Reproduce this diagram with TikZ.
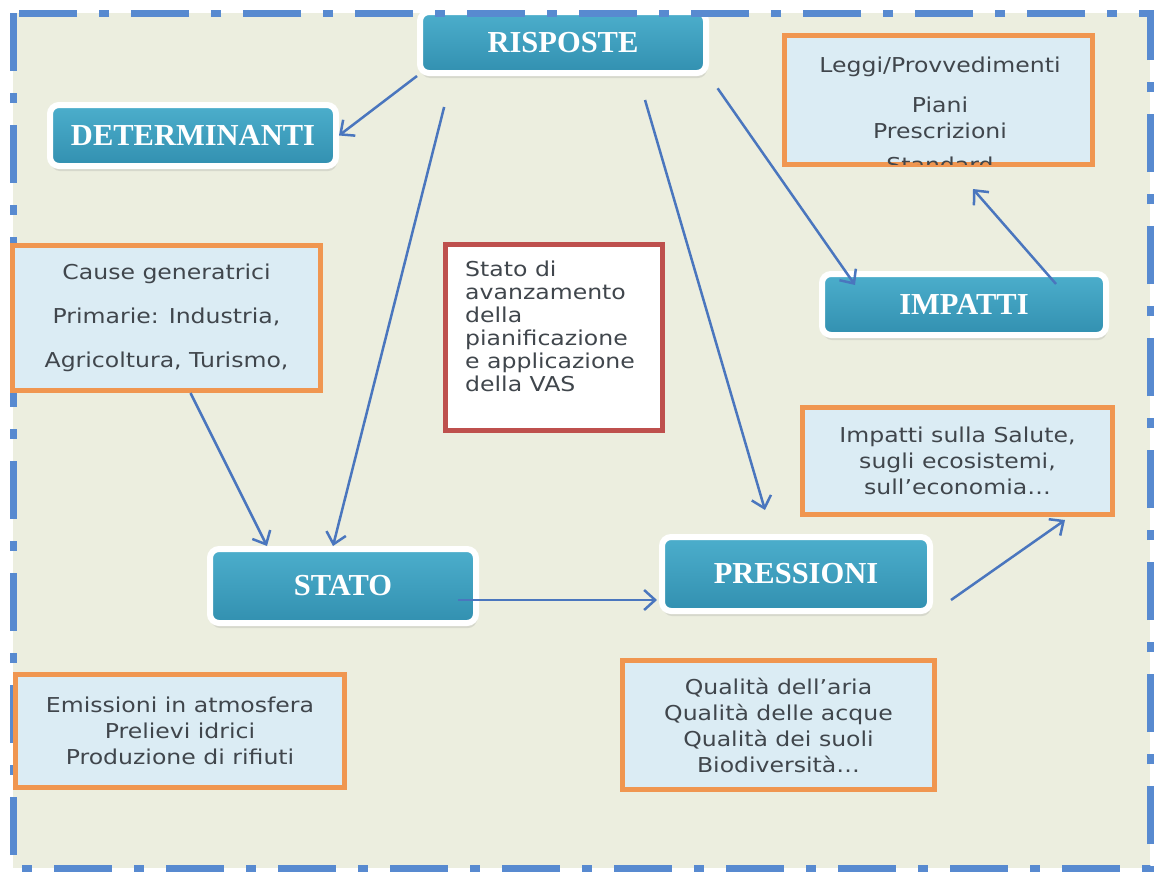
\documentclass[tikz,border=0pt]{standalone}
\usepackage{fontspec}
\usetikzlibrary{arrows.meta,calc,shadows}
\newfontfamily\boxfont[FakeStretch=1.15]{DejaVu Sans}
\newfontfamily\headfont{Liberation Serif}
\definecolor{pagebg}{RGB}{236,238,223}
\definecolor{framebl}{RGB}{88,138,208}
\definecolor{btntop}{RGB}{76,174,204}
\definecolor{btnbot}{RGB}{50,144,176}
\definecolor{boxorange}{RGB}{240,150,80}
\definecolor{boxblue}{RGB}{219,236,244}
\definecolor{boxred}{RGB}{190,80,77}
\definecolor{textgray}{RGB}{64,70,76}
\definecolor{arrowblue}{RGB}{74,118,190}

\tikzset{
  button/.style={rectangle, rounded corners=9pt, draw=white, line width=6pt,
    top color=btntop, bottom color=btnbot, text=white, inner sep=0pt,
    font=\headfont\bfseries\fontsize{30.5}{34}\selectfont,
    drop shadow={shadow xshift=1pt, shadow yshift=-5pt, opacity=0.2}},
  infobox/.style={rectangle, draw=boxorange, line width=5pt, fill=boxblue,
    text=textgray, inner sep=0pt, align=center,
    font=\boxfont\fontsize{20.5}{26}\selectfont},
  arr/.style={draw=arrowblue, line width=2.5pt,
    -{Straight Barb[length=11pt, width=20pt]}},
}

\begin{document}
\begin{tikzpicture}[x=1pt, y=-1pt]
  \useasboundingbox (0,0) rectangle (1154,873);
  \fill[pagebg] (13,13) rectangle (1150,868);

  % top button sits under the frame
  \node[button, minimum width=286pt, minimum height=61pt] (risp) at (563,42.5) {RISPOSTE};

  % dash-dot frame
  \draw[framebl, line width=7pt, dash pattern=on 58pt off 22pt on 10pt off 22pt]
    (13,13) rectangle (1150,868);

  % the other buttons
  \node[button, minimum width=286pt, minimum height=61pt] (det) at (193,135.5) {DETERMINANTI};
  \node[button, minimum width=284pt, minimum height=61pt] (imp) at (964,304.5) {IMPATTI};
  \node[button, minimum width=266pt, minimum height=74pt] (stato) at (343,586) {STATO};
  \node[button, minimum width=268pt, minimum height=74pt] (press) at (796,574) {PRESSIONI};

  % orange boxes
  \node[infobox, minimum width=308pt, minimum height=129pt] (leggi) at (938.5,100) {};
  \begin{scope}
    \clip ($(leggi.north west)+(2.5,2.5)$) rectangle ($(leggi.south east)+(-2.5,-2.5)$);
    \node[text=textgray, align=center, inner sep=0pt, anchor=north,
      font=\boxfont\fontsize{20.5}{26}\selectfont] (leggitxt) at (940,57)
      {Leggi/Provvedimenti\\[14pt]Piani\\Prescrizioni\\[8pt]Standard};
  \end{scope}

  \node[infobox, minimum width=308pt, minimum height=145pt,
    font=\boxfont\fontsize{20.5}{44}\selectfont] (cause) at (166.5,318)
    {Cause generatrici\\Primarie: Industria,\\Agricoltura, Turismo,};

  \node[infobox, minimum width=310pt, minimum height=107pt] (salute) at (957.5,461)
    {Impatti sulla Salute,\\sugli ecosistemi,\\sull’economia…};

  \node[infobox, minimum width=329pt, minimum height=113pt] (emis) at (180,731)
    {Emissioni in atmosfera\\Prelievi idrici\\Produzione di rifiuti};

  \node[infobox, minimum width=312pt, minimum height=129pt] (qual) at (778.5,725)
    {Qualità dell’aria\\Qualità delle acque\\Qualità dei suoli\\Biodiversità…};

  % red box
  \node[infobox, draw=boxred, fill=white, minimum width=217pt, minimum height=186pt]
    (vas) at (554,337.5) {};
  \node[text=textgray, align=left, inner sep=0pt, anchor=north west,
    font=\boxfont\fontsize{20.5}{23}\selectfont] (vastxt) at (465,261)
    {Stato di\\avanzamento\\della\\pianificazione\\e applicazione\\della VAS};

  % arrows
  \draw[arr] (risp.south west) -- (det.east);
  \draw[arr, shorten <=32pt] ([xshift=-111pt]risp.south) -- ([xshift=-10pt]stato.north);
  \draw[arr, shorten <=25pt, shorten >=25pt] ([xshift=75pt]risp.south) -- ([xshift=-24pt]press.north);
  \draw[arr, shorten <=15pt] (risp.south east) -- ($(imp.north west)+(36,14)$);
  \draw[arr] ($(imp.north east)+(-53,13)$) -- ($(leggi.south)+(34.5,22)$);
  \draw[arr] ($(cause.south)+(24,0)$) -- ($(stato.north west)+(60,0)$);
  \draw[arr] ($(stato.east)+(-21,14)$) -- ($(press.west)+(-2,26)$);
  \draw[arr] ($(press.south east)+(18,-14)$) -- ($(salute.south east)+(-50,3)$);
\end{tikzpicture}
\end{document}
